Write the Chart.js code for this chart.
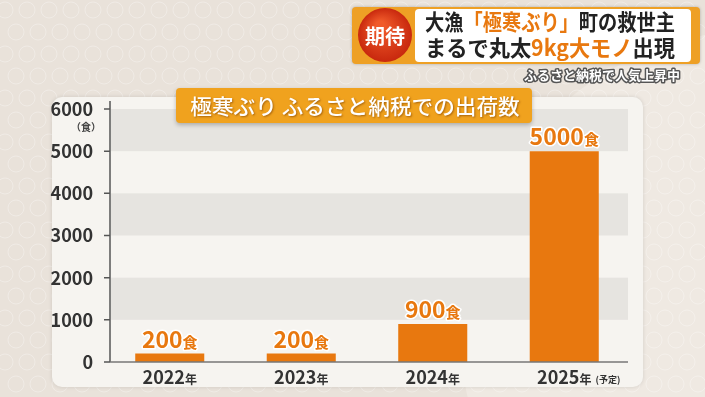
<!DOCTYPE html>
<html lang=ja>

<head>
    <meta charset=UTF-8>
    <title>極寒ぶり ふるさと納税での出荷数</title>
    <style>
        * {
            margin: 0;
            padding: 0;
        }

        body {
            background: #e9e2da;
            width: 705px;
            height: 397px;
            overflow: hidden;
        }

        canvas {
            display: block;
        }
    </style>
</head>

<body>
    <canvas id="myChart" width="705" height="397"></canvas>
    <script src="https://cdn.jsdelivr.net/npm/chart.js"></script>
    <script>
        // data
        const years = ['2022', '2023', '2024', '2025']
        const yearNotes = ['', '', '', '(予定)']
        const shipped = [200, 200, 900, 5000]
        const yTicks = [0, 1000, 2000, 3000, 4000, 5000, 6000]
        const unit = '食'
        const title = '極寒ぶり ふるさと納税での出荷数'
        const headLine1 = [['大漁', '#222'], ['「極寒ぶり」', '#e8780f'], ['町の救世主', '#222']]
        const headLine2 = [['まるで丸太', '#222'], ['9kg大モノ', '#e8780f'], ['出現', '#222']]
        const badge = '期待'
        const subTitle = 'ふるさと納税で人気上昇中'

        const JP = '"Noto Sans CJK JP", "Noto Sans", sans-serif'
        const ORANGE = '#e8780f'
        const AXIS_X = 110
        const AXIS_END = 628

        function roundRect(ctx, x, y, w, h, r) {
            ctx.beginPath();
            ctx.roundRect(x, y, w, h, r);
        }

        // draws colored pieces of text squeezed into a given width
        function drawPieces(ctx, pieces, x, y, width, font) {
            ctx.font = font;
            let total = 0;
            pieces.forEach(p => total += ctx.measureText(p[0]).width);
            const sx = Math.min(1, width / total);
            ctx.save();
            ctx.translate(x, y);
            ctx.scale(sx, 1);
            let cx = 0;
            pieces.forEach(p => {
                ctx.fillStyle = p[1];
                ctx.fillText(p[0], cx, 0);
                cx += ctx.measureText(p[0]).width;
            });
            ctx.restore();
        }

        const decor = {
            id: 'decor',
            beforeDraw(chart) {
                const ctx = chart.ctx;
                const W = chart.width, H = chart.height;
                ctx.save();
                // background
                ctx.fillStyle = '#e9e2da';
                ctx.fillRect(0, 0, W, H);
                ctx.fillStyle = '#efe9e2';
                ctx.beginPath();
                ctx.arc(760, 330, 300, 0, Math.PI * 2);
                ctx.fill();
                ctx.strokeStyle = 'rgba(255,255,255,0.3)';
                ctx.lineWidth = 1;
                for (let y = 10; y < H; y += 22) {
                    for (let x = ((y / 22) % 2) * 11; x < W; x += 22) {
                        ctx.beginPath();
                        ctx.arc(x, y, 8, 0, Math.PI * 2);
                        ctx.stroke();
                    }
                }

                // white panel
                ctx.shadowColor = 'rgba(0,0,0,0.12)';
                ctx.shadowBlur = 4;
                ctx.fillStyle = '#f6f4f0';
                roundRect(ctx, 52, 97, 591, 290, 10);
                ctx.fill();
                ctx.shadowColor = 'transparent';

                // grey bands
                const y = chart.scales.y;
                ctx.fillStyle = '#e6e4e0';
                [[1000, 2000], [3000, 4000], [5000, 6000]].forEach(b => {
                    const t = y.getPixelForValue(b[1]), bt = y.getPixelForValue(b[0]);
                    ctx.fillRect(AXIS_X + 1, t, AXIS_END - AXIS_X - 1, bt - t);
                });

                // title box
                ctx.shadowColor = 'rgba(0,0,0,0.25)';
                ctx.shadowBlur = 4;
                ctx.shadowOffsetY = 2;
                ctx.fillStyle = '#f0a21e';
                roundRect(ctx, 176, 88, 356, 35, 4);
                ctx.fill();
                ctx.shadowColor = 'rgba(120,60,0,0.6)';
                ctx.shadowBlur = 2;
                ctx.shadowOffsetY = 1;
                ctx.shadowOffsetX = 1;
                ctx.fillStyle = '#fff';
                ctx.textAlign = 'center';
                ctx.textBaseline = 'middle';
                ctx.font = '500 21px ' + JP;
                ctx.save();
                ctx.translate(355, 106);
                ctx.scale(1.03, 1);
                ctx.fillText(title, 0, 0);
                ctx.restore();
                ctx.shadowColor = 'transparent';
                ctx.shadowOffsetX = 0;
                ctx.shadowOffsetY = 0;

                // header box
                ctx.shadowColor = 'rgba(0,0,0,0.25)';
                ctx.shadowBlur = 3;
                ctx.fillStyle = '#eea025';
                roundRect(ctx, 352, 7, 348, 57, 4);
                ctx.fill();
                ctx.shadowColor = 'transparent';
                ctx.fillStyle = '#fff';
                roundRect(ctx, 415, 9, 276, 53, 4);
                ctx.fill();
                const g = ctx.createRadialGradient(380, 25, 4, 385, 35, 27);
                g.addColorStop(0, '#f05a2a');
                g.addColorStop(1, '#c8280e');
                ctx.fillStyle = g;
                ctx.beginPath();
                ctx.arc(385, 35, 27, 0, Math.PI * 2);
                ctx.fill();
                ctx.fillStyle = '#fff';
                ctx.font = 'bold 20px ' + JP;
                ctx.fillText(badge, 385, 36);

                ctx.textAlign = 'left';
                drawPieces(ctx, headLine1, 425, 22, 250, 'bold 22px ' + JP);
                drawPieces(ctx, headLine2, 425, 48, 250, 'bold 22px ' + JP);

                // subtitle with outline
                ctx.font = 'bold 13px ' + JP;
                ctx.textAlign = 'right';
                ctx.lineJoin = 'round';
                ctx.lineWidth = 3;
                ctx.strokeStyle = '#555';
                ctx.strokeText(subTitle, 680, 75);
                ctx.fillStyle = '#fff';
                ctx.fillText(subTitle, 680, 75);
                ctx.restore();
            },
            afterDatasetsDraw(chart) {
                const ctx = chart.ctx;
                const x = chart.scales.x, y = chart.scales.y;
                ctx.save();
                // axes
                const base = y.getPixelForValue(0);
                ctx.strokeStyle = '#555';
                ctx.lineWidth = 1.5;
                ctx.beginPath();
                ctx.moveTo(AXIS_X, y.getPixelForValue(6000) - 8);
                ctx.lineTo(AXIS_X, base);
                yTicks.forEach(v => {
                    const py = y.getPixelForValue(v);
                    ctx.moveTo(AXIS_X - 6, py);
                    ctx.lineTo(AXIS_X, py);
                });
                ctx.stroke();
                ctx.strokeStyle = '#777';
                ctx.beginPath();
                ctx.moveTo(AXIS_X, base);
                ctx.lineTo(AXIS_END, base);
                ctx.stroke();

                ctx.textBaseline = 'alphabetic';
                ctx.lineJoin = 'round';
                // value labels above the bars
                shipped.forEach((v, i) => {
                    const cx = x.getPixelForValue(i);
                    const top = y.getPixelForValue(v);
                    const num = String(v);
                    ctx.font = 'bold 23px ' + JP;
                    const w1 = ctx.measureText(num).width;
                    ctx.font = 'bold 15px ' + JP;
                    const w2 = ctx.measureText(unit).width;
                    const left = cx - (w1 + w2) / 2;
                    const by = top - 6;
                    ctx.textAlign = 'left';
                    ctx.strokeStyle = '#fff';
                    ctx.lineWidth = 3;
                    ctx.fillStyle = ORANGE;
                    ctx.font = 'bold 23px ' + JP;
                    ctx.strokeText(num, left, by);
                    ctx.fillText(num, left, by);
                    ctx.font = 'bold 15px ' + JP;
                    ctx.strokeText(unit, left + w1, by);
                    ctx.fillText(unit, left + w1, by);
                });
                // category labels
                years.forEach((yr, i) => {
                    const cx = x.getPixelForValue(i);
                    ctx.fillStyle = '#333';
                    ctx.font = 'bold 18px ' + JP;
                    const w1 = ctx.measureText(yr).width;
                    ctx.font = 'bold 12px ' + JP;
                    const w2 = ctx.measureText('年').width;
                    const left = cx - (w1 + w2) / 2;
                    ctx.textAlign = 'left';
                    ctx.font = 'bold 18px ' + JP;
                    ctx.fillText(yr, left, 384);
                    ctx.font = 'bold 12px ' + JP;
                    ctx.fillText('年', left + w1, 384);
                    if (yearNotes[i]) {
                        ctx.font = 'bold 9px ' + JP;
                        ctx.fillText(yearNotes[i], left + w1 + w2 + 4, 383);
                    }
                });
                // unit under the top tick
                ctx.textAlign = 'center';
                ctx.fillStyle = '#444';
                ctx.font = 'bold 10px ' + JP;
                ctx.fillText('（' + unit + '）', 86, 131);
                ctx.restore();
            }
        };

        const ctx = document.getElementById('myChart');
        new Chart(ctx, {
            type: 'bar',
            data: {
                labels: years,
                datasets: [{
                    data: shipped,
                    backgroundColor: ORANGE,
                    barPercentage: 0.525,
                    categoryPercentage: 1
                }]
            },
            options: {
                responsive: false,
                animation: false,
                devicePixelRatio: 1,
                layout: { padding: { top: 109, right: 75, bottom: 0, left: 0 } },
                plugins: {
                    legend: { display: false },
                    tooltip: { enabled: false }
                },
                scales: {
                    x: {
                        afterFit(s) { s.height = 35; },
                        grid: { display: false },
                        border: { display: false },
                        ticks: { display: false }
                    },
                    y: {
                        min: 0,
                        max: 6000,
                        afterFit(s) { s.width = 104; },
                        afterBuildTicks(s) { s.ticks = yTicks.map(v => ({ value: v })); },
                        grid: { display: false },
                        border: { display: false },
                        ticks: {
                            padding: 3,
                            color: '#333',
                            font: { family: JP, size: 18, weight: 'bold' },
                            callback: v => String(v)
                        }
                    }
                }
            },
            plugins: [decor]
        });
    </script>
</body>

</html>
